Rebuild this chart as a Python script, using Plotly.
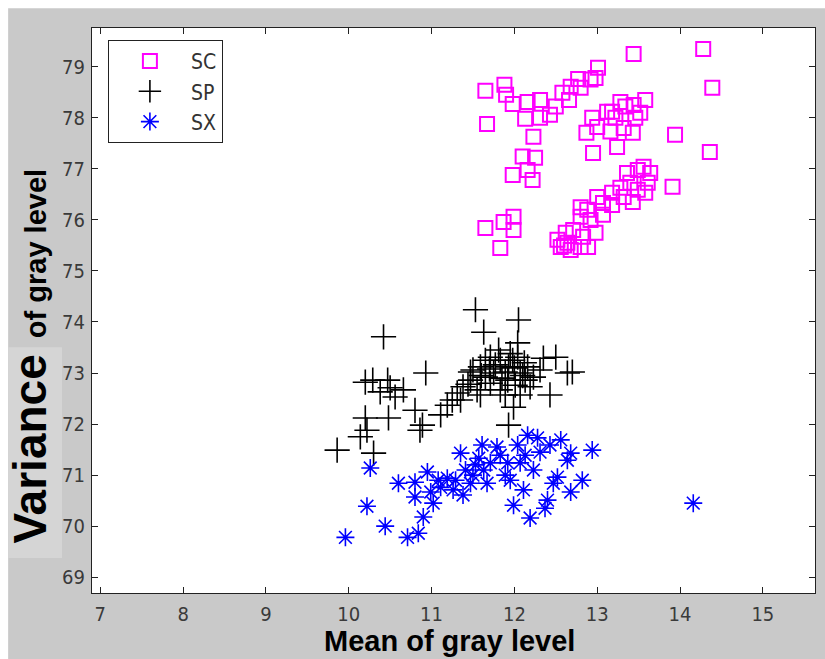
import plotly.graph_objects as go

# ---------------- data ----------------
sc_x = [11.65, 11.88, 11.90, 11.98, 12.16, 12.31, 12.50, 12.13, 12.31, 12.43, 12.23, 11.67,
        12.58, 12.66, 12.68, 12.77, 12.80, 12.92, 13.01, 12.98, 13.44, 14.28, 14.39, 13.94, 14.36,
        12.87, 12.94, 13.00, 12.95, 13.16, 13.18, 13.28, 13.34, 13.44, 13.58, 13.46, 13.22, 13.32,
        13.43, 13.24, 13.52, 13.12,
        12.10, 12.25, 11.98, 12.22, 12.16,
        11.65, 11.87, 11.99, 11.99, 11.83,
        12.56, 12.52, 12.64, 12.62, 12.71, 12.68, 12.80, 12.89, 12.80, 12.80, 12.88, 12.98, 12.92,
        13.00, 13.07, 13.18, 13.18, 13.28, 13.32, 13.43, 13.40, 13.36, 13.49, 13.56, 13.64, 13.61,
        13.58, 13.49, 13.91, 12.83, 12.60, 13.07]
sc_y = [78.53, 78.65, 78.45, 78.27, 78.31, 78.35, 78.22, 77.98, 78.00, 78.06, 77.63, 77.88,
        78.49, 78.35, 78.61, 78.76, 78.59, 78.75, 78.98, 78.78, 79.25, 79.35, 78.59, 77.67, 77.33,
        77.71, 78.00, 77.82, 77.31, 77.73, 78.12, 78.31, 78.22, 78.25, 78.35, 78.00, 78.00, 77.80,
        77.71, 77.43, 78.10, 78.12,
        77.24, 77.22, 76.88, 76.78, 76.98,
        75.84, 75.96, 76.06, 75.80, 75.45,
        75.47, 75.61, 75.55, 75.75, 75.80, 75.41, 75.47, 75.47, 76.06, 76.25, 76.20, 75.75, 76.00,
        76.45, 76.33, 76.29, 76.53, 76.63, 76.45, 76.35, 76.73, 76.92, 76.98, 77.04, 76.92, 76.73,
        76.53, 76.59, 76.65, 75.67, 75.50, 76.10]

sp_x = [11.53, 12.05, 11.63, 10.42, 10.93, 10.29, 10.47, 10.20, 10.50, 10.66, 10.38, 10.56,
        10.80, 10.20, 10.48, 10.89, 10.22, 11.11, 11.19, 11.25, 11.31, 11.38, 11.47, 11.50,
        11.59, 11.65, 11.71, 11.83, 11.93, 12.04, 12.04, 12.07, 12.16, 12.23, 12.31, 12.50,
        12.64, 12.43, 11.99, 11.93, 11.83, 11.71, 11.55, 11.92, 11.75, 12.19, 11.35, 9.86,
        10.14, 10.30, 10.86, 11.77, 11.89, 11.98, 11.65, 11.47, 12.01, 12.13, 12.35, 11.89,
        11.59, 12.70, 12.07, 11.81, 11.60, 11.70, 11.85, 12.00, 12.10, 11.44, 11.95, 12.12]
sp_y = [74.24, 74.04, 73.80, 73.71, 73.00, 72.86, 72.86, 72.82, 72.71, 72.67, 72.63, 72.53,
        72.27, 72.12, 72.12, 71.98, 71.88, 72.18, 72.37, 72.47, 72.61, 72.73, 72.86, 73.06,
        73.12, 72.92, 73.31, 73.25, 73.12, 73.59, 73.31, 73.00, 73.12, 72.92, 73.06, 73.31,
        73.00, 72.57, 72.33, 71.98, 72.67, 72.80, 72.67, 72.86, 73.00, 72.73, 72.47, 71.49,
        71.75, 71.43, 71.88, 73.16, 73.02, 73.25, 73.25, 73.02, 72.76, 72.86, 73.29, 72.57,
        72.57, 73.02, 72.57, 73.45, 72.95, 73.08, 72.90, 73.10, 72.95, 72.78, 73.38, 73.20]

sx_x = [10.26, 10.60, 10.80, 10.95, 10.22, 10.44, 9.96, 10.71, 10.84, 10.80, 10.90, 10.99,
        11.02, 11.11, 11.19, 11.26, 11.38, 11.35, 11.61, 11.79, 11.50, 11.63, 11.71, 11.47,
        11.67, 11.92, 12.04, 12.16, 12.28, 12.31, 12.23, 11.95, 12.11, 11.99, 12.19, 12.37,
        12.40, 12.52, 12.64, 12.56, 12.68, 12.82, 12.68, 12.94, 14.16, 12.47, 12.07, 11.53,
        11.57, 11.41, 11.29, 11.08, 11.83, 11.89, 12.13, 12.43]
sx_y = [71.14, 70.84, 70.86, 71.06, 70.39, 70.00, 69.78, 69.78, 69.86, 70.57, 70.18, 70.67,
        70.45, 70.76, 70.94, 70.71, 70.61, 71.43, 71.59, 71.55, 71.00, 71.10, 71.24, 70.84,
        70.84, 71.24, 71.59, 71.78, 71.73, 71.45, 71.10, 70.90, 70.71, 70.41, 70.16, 70.35,
        70.51, 70.96, 71.29, 71.69, 71.43, 70.90, 70.67, 71.49, 70.45, 70.84, 71.24, 71.20,
        71.33, 71.10, 70.90, 70.90, 71.39, 71.00, 71.39, 71.59]

x_ticks = [7, 8, 9, 10, 11, 12, 13, 14, 15]
y_ticks = [69, 70, 71, 72, 73, 74, 75, 76, 77, 78, 79]
x_range = [6.9, 15.63]
y_range = [68.69, 79.76]

# ---------------- figure ----------------
narrow = "Liberation Sans Narrow, Arial Narrow, DejaVu Sans Condensed, Liberation Sans"
tick_font = dict(family=narrow, size=20, color="#3a3a3a")

fig = go.Figure()
fig.add_trace(go.Scatter(
    x=sc_x, y=sc_y, mode="markers", name="SC",
    marker=dict(symbol="square-open", size=14, color="#ff00ff", line=dict(width=2, color="#ff00ff")),
))
fig.add_trace(go.Scatter(
    x=sp_x, y=sp_y, mode="markers", name="SP",
    marker=dict(symbol="cross-thin-open", size=18, color="black", line=dict(width=1.6, color="black")),
))
fig.add_trace(go.Scatter(
    x=sx_x, y=sx_y, mode="markers", name="SX",
    marker=dict(symbol="asterisk-open", size=15, color="#0000ff", line=dict(width=1.6, color="#0000ff")),
))

axis_common = dict(
    showgrid=False, zeroline=False, showline=True, linecolor="#222222", linewidth=1,
    mirror="ticks", ticks="inside", ticklen=6, tickcolor="#222222", tickwidth=1,
    tickfont=tick_font,
)
fig.update_xaxes(range=x_range, tickvals=x_ticks, ticktext=[str(v) for v in x_ticks],
                 ticklabelstandoff=3, **axis_common)
fig.update_yaxes(range=y_range, tickvals=y_ticks, ticktext=[str(v) for v in y_ticks],
                 ticklabelstandoff=2, **axis_common)

fig.update_layout(
    width=825, height=659,
    margin=dict(l=92, r=10, t=28, b=66),
    paper_bgcolor="white", plot_bgcolor="white",
    showlegend=True,
    legend=dict(
        x=0.022, y=0.979, xanchor="left", yanchor="top",
        bgcolor="white", bordercolor="#222222", borderwidth=1,
        font=dict(family=narrow, size=21, color="#333333"),
        itemwidth=72, tracegroupgap=4,
    ),
    shapes=[
        dict(type="rect", xref="paper", yref="paper", x0=-0.116, x1=1.02, y0=-0.12, y1=1.035,
             fillcolor="#c9c9c9", line=dict(width=0), layer="below"),
        dict(type="rect", xref="paper", yref="paper", x0=-0.116, x1=-0.0415, y0=0.062, y1=0.435,
             fillcolor="#d5d5d5", line=dict(width=0), layer="below"),
        dict(type="rect", xref="paper", yref="paper", x0=0, x1=1, y0=0, y1=1,
             fillcolor="white", line=dict(width=0), layer="below"),
    ],
    annotations=[
        dict(text="Mean of gray level", xref="paper", yref="paper", x=0.494, y=-0.117,
             xanchor="center", yanchor="bottom", showarrow=False,
             font=dict(family="Liberation Sans, Arial", size=29, color="black", weight="bold")),
        dict(text="<span style='font-size:46px'>Variance</span>  of gray level",
             xref="paper", yref="paper", x=-0.086, y=0.42, textangle=-90,
             xanchor="center", yanchor="middle", showarrow=False,
             font=dict(family="Liberation Sans, Arial", size=29, color="black", weight="bold")),
    ],
)

fig.write_html("out.html")
